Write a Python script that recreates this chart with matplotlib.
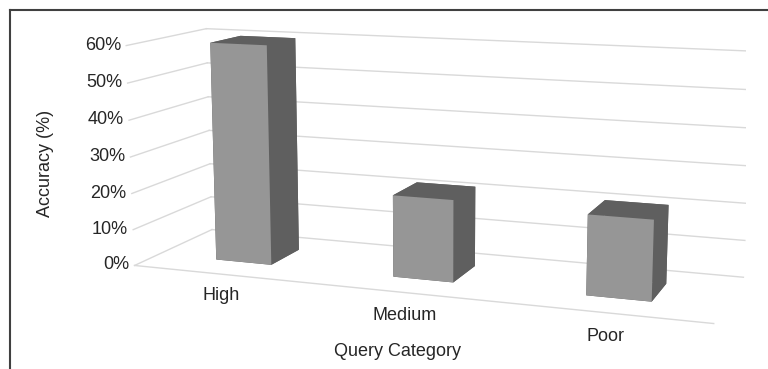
"""
Grafico de barras 3D: precision por categoria de consulta.
Uso:
    python plot.py
"""

import matplotlib
matplotlib.use("Agg")
import matplotlib.pyplot as plt
from matplotlib.lines import Line2D

CATEGORIAS = ["High", "Medium", "Poor"]
PRECISION = [0.60, 0.22, 0.21]
TICKS_Z = [0.0, 0.1, 0.2, 0.3, 0.4, 0.5, 0.6]
ETIQUETAS_Z = ["0%", "10%", "20%", "30%", "40%", "50%", "60%"]

ANCHO_FIG, ALTO_FIG, DPI = 768, 369, 100
COLOR_FRENTE = "#969696"
COLOR_OSCURO = "#5f5f5f"
COLOR_GRILLA = "#d9d9d9"
COLOR_TEXTO = "#262626"

plt.rcParams["font.family"] = ["Liberation Sans", "DejaVu Sans"]

fig = plt.figure(figsize=(ANCHO_FIG / DPI, ALTO_FIG / DPI), dpi=DPI)

# Eje 3D cuadrado centrado sobre la caja del grafico
lado = 640
cx, cy = 426, 170
ax = fig.add_axes([cx / ANCHO_FIG - lado / ANCHO_FIG / 2,
                   (ALTO_FIG - cy) / ALTO_FIG - lado / ALTO_FIG / 2,
                   lado / ANCHO_FIG, lado / ALTO_FIG],
                  projection="3d", computed_zorder=False)
ax.set_proj_type("persp", focal_length=0.45)
ax.view_init(elev=11, azim=-70)
ax.set_box_aspect((585, 165, 223))
ax.set_xlim(0, len(CATEGORIAS))
ax.set_ylim(0, 1)
ax.set_zlim(0, TICKS_Z[-1])
ax.set_axis_off()

n = len(CATEGORIAS)

# Paredes: izquierda (x=0) y fondo (y=1)
for z in TICKS_Z:
    ax.plot([0, 0], [0, 1], [z, z], color=COLOR_GRILLA, lw=1, zorder=1)
    ax.plot([0, n], [1, 1], [z, z], color=COLOR_GRILLA, lw=1, zorder=1)
# Borde frontal del piso
ax.plot([0, n], [0, 0], [0, 0], color=COLOR_GRILLA, lw=1, zorder=1)

# Barras
ancho, fondo, y0 = 0.32, 0.4, 0.3
xs = [i + 0.5 - ancho / 2 for i in range(n)]
caras = []
for _ in range(n):
    # orden de caras: -z, +z, -y, +y, -x, +x
    caras += [COLOR_OSCURO, COLOR_OSCURO, COLOR_FRENTE,
              COLOR_OSCURO, COLOR_OSCURO, COLOR_OSCURO]
ax.bar3d(xs, [y0] * n, [0] * n, [ancho] * n, [fondo] * n, PRECISION,
         color=caras, shade=False, linewidth=0, zorder=2)

# Etiquetas del eje de valores
for z, etiqueta in zip(TICKS_Z, ETIQUETAS_Z):
    ax.text(-0.03, 0, z, etiqueta, ha="right", va="center",
            fontsize=13, color=COLOR_TEXTO)

# Etiquetas de categorias
for i, cat in enumerate(CATEGORIAS):
    ax.text(i + 0.5, 0, -0.06, cat, ha="center", va="center",
            fontsize=13, color=COLOR_TEXTO)

fig.text(45 / ANCHO_FIG, 1 - 163 / ALTO_FIG, "Accuracy (%)", rotation=90,
         ha="center", va="center", fontsize=13, color=COLOR_TEXTO)
fig.text(397 / ANCHO_FIG, 1 - 352 / ALTO_FIG, "Query Category",
         ha="center", va="center", fontsize=13, color=COLOR_TEXTO)

# Marco de la imagen (solo arriba e izquierda visibles)
borde_x, borde_y = 10 / ANCHO_FIG, 1 - 10 / ALTO_FIG
fig.add_artist(Line2D([borde_x, 1], [borde_y, borde_y], transform=fig.transFigure,
                      color="#404040", lw=1.5))
fig.add_artist(Line2D([borde_x, borde_x], [0, borde_y], transform=fig.transFigure,
                      color="#404040", lw=1.5))

fig.savefig("out.png", dpi=DPI)
plt.close(fig)
